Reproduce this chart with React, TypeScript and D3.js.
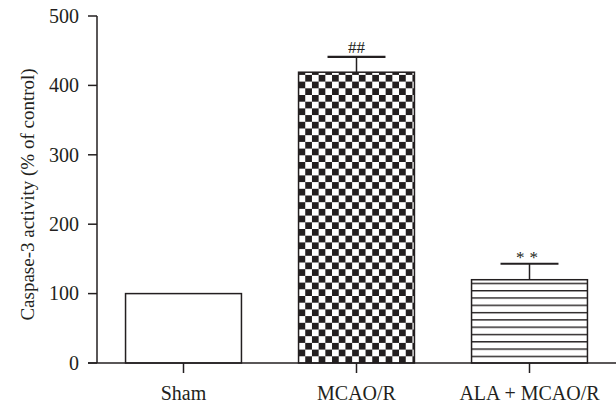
import * as React from 'react';
import * as d3 from 'd3';

const categories = ['Sham', 'MCAO/R', 'ALA + MCAO/R'];
const means = [100, 419, 120];
const errors = [0, 22, 23];
const marks = ['', '##', '**'];
const yTicks = [0, 100, 200, 300, 400, 500];

const W = 616;
const H = 407;
const ink = '#231f20';
const font = '"Liberation Serif", "Times New Roman", serif';

export default function App() {
  const y = d3.scaleLinear().domain([0, 500]).range([363, 16]);
  const x = d3
    .scaleBand<string>()
    .domain(categories)
    .range([97, 616])
    .paddingInner(0.33)
    .paddingOuter(0.165);
  const bw = x.bandwidth();
  const fills = ['#fff', 'url(#checker)', 'url(#hlines)'];
  const x0 = x(categories[1])!;
  const x2 = x(categories[2])!;

  return (
    <svg
      width={W}
      height={H}
      style={{ position: 'absolute', left: 0, top: 0, background: '#fff' }}
      fontFamily={font}
    >
      <defs>
        <pattern id="checker" patternUnits="userSpaceOnUse" width={13.4} height={13.4} x={x0} y={y(0)}>
          <rect width={13.4} height={13.4} fill="#fff" />
          <rect width={6.7} height={6.7} fill={ink} />
          <rect x={6.7} y={6.7} width={6.7} height={6.7} fill={ink} />
        </pattern>
        <pattern id="hlines" patternUnits="userSpaceOnUse" width={20} height={7.3} x={x2} y={y(0)}>
          <rect width={20} height={7.3} fill="#fff" />
          <line x1={0} x2={20} y1={0.7} y2={0.7} stroke={ink} strokeWidth={1.4} />
        </pattern>
      </defs>

      {/* bars */}
      {categories.map((c, i) => (
        <rect
          key={c}
          x={x(c)}
          y={y(means[i])}
          width={bw}
          height={y(0) - y(means[i])}
          fill={fills[i]}
          stroke={ink}
          strokeWidth={1.5}
        />
      ))}

      {/* error bars + significance marks */}
      {categories.map((c, i) => {
        if (!errors[i]) return null;
        const cx = x(c)! + bw / 2;
        const top = y(means[i] + errors[i]);
        return (
          <g key={c}>
            <line x1={cx} x2={cx} y1={y(means[i])} y2={top} stroke={ink} strokeWidth={1.5} />
            <line x1={cx - bw / 4} x2={cx + bw / 4} y1={top} y2={top} stroke={ink} strokeWidth={2.2} />
            <text
              x={cx}
              y={top - (marks[i] === '**' ? 1 : 4)}
              textAnchor="middle"
              fontSize={17}
              letterSpacing={marks[i] === '**' ? 5 : 0}
              fill={ink}
            >
              {marks[i]}
            </text>
          </g>
        );
      })}

      {/* y axis */}
      <line x1={97} x2={97} y1={y(500)} y2={y(0)} stroke={ink} strokeWidth={1.5} />
      {yTicks.map((t) => (
        <g key={t} transform={`translate(0,${y(t)})`}>
          <line x1={88} x2={97} stroke={ink} strokeWidth={1.5} />
          <text x={79} dy="0.34em" textAnchor="end" fontSize={20} fill={ink}>
            {t}
          </text>
        </g>
      ))}
      <text
        transform={`translate(34,${(y(0) + y(500)) / 2 + 5}) rotate(-90)`}
        textAnchor="middle"
        fontSize={19}
        fill={ink}
      >
        Caspase-3 activity (% of control)
      </text>

      {/* x axis */}
      <line x1={88} x2={616} y1={y(0)} y2={y(0)} stroke={ink} strokeWidth={1.5} />
      {categories.map((c) => {
        const cx = x(c)! + bw / 2;
        return (
          <g key={c}>
            <line x1={cx} x2={cx} y1={y(0)} y2={y(0) + 10} stroke={ink} strokeWidth={1.5} />
            <text x={cx} y={400} textAnchor="middle" fontSize={20} fill={ink}>
              {c}
            </text>
          </g>
        );
      })}
    </svg>
  );
}
